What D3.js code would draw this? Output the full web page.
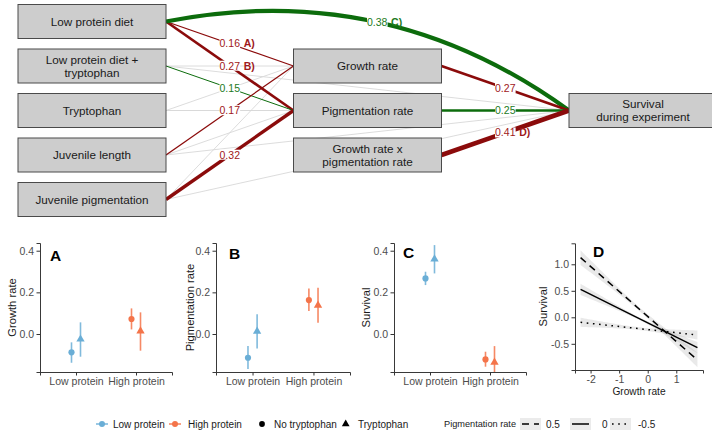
<!DOCTYPE html>
<html>
<head>
<meta charset="utf-8">
<script src="https://cdn.jsdelivr.net/npm/d3@7"></script>
<style>
  html, body { margin: 0; padding: 0; background: #fff; }
  svg { display: block; font-family: "Liberation Sans", Arial, sans-serif; }
</style>
</head>
<body>
<svg id="chart" width="712" height="433"></svg>
<script>
// ---------------- Path model ----------------
const nodeIds    = ["lp", "lpt", "trp", "jl", "jp", "gr", "pr", "gxp", "surv"];
const nodeLabels = ["Low protein diet", "Low protein diet +\ntryptophan", "Tryptophan",
                    "Juvenile length", "Juvenile pigmentation",
                    "Growth rate", "Pigmentation rate", "Growth rate x\npigmentation rate",
                    "Survival\nduring experiment"];
const nodeLayer  = ["exo", "exo", "exo", "exo", "exo", "med", "med", "med", "resp"];

// significant paths (standardised coefficients; sign gives colour)
const sigFrom = ["lp", "lp", "lp", "lpt", "jl", "jp", "gr", "pr", "gxp"];
const sigTo   = ["gr", "pr", "surv", "pr", "gr", "pr", "surv", "surv", "surv"];
const sigCoef = [-0.16, -0.27, 0.38, 0.15, -0.17, -0.32, -0.27, 0.25, -0.41];
const sigTag  = ["A)", "B)", "C)", "", "", "", "", "", "D)"];

// non-significant paths
const nsFrom = ["lpt", "lpt", "trp", "trp", "trp", "jl", "jl", "jp", "jp"];
const nsTo   = ["gr", "surv", "gr", "pr", "surv", "pr", "surv", "gr", "surv"];

// ---------------- Treatment effects (panels A-C) ----------------
const dietLevels = ["Low protein", "High protein"];
const trpLevels  = ["No tryptophan", "Tryptophan"];
// order: low/no trp, low/trp, high/no trp, high/trp
const growthMean = [-0.088, -0.025, 0.072, 0.014];
const growthLow  = [-0.138, -0.109, 0.022, -0.080];
const growthHigh = [-0.040, 0.056, 0.123, 0.104];
const pigMean    = [-0.114, 0.013, 0.163, 0.138];
const pigLow     = [-0.168, -0.069, 0.110, 0.054];
const pigHigh    = [-0.058, 0.095, 0.219, 0.222];
const survMean   = [0.267, 0.360, -0.122, -0.136];
const survLow    = [0.235, 0.291, -0.157, -0.200];
const survHigh   = [0.299, 0.427, -0.085, -0.058];
const effectTicks = [0, 0.2, 0.4];
const effectTickLabels = ["0.0", "0.2", "0.4"];

// ---------------- Interaction (panel D) ----------------
const pigLevels   = ["0.5", "0", "-0.5"];
const fitIntercept = [0.016, -0.105, -0.232];
const fitSlope     = [-0.472, -0.269, -0.0587];
const fitSe0       = [0.035, 0.025, 0.025];
const fitSeSlope   = [0.065, 0.050, 0.040];
const growthCentre = -0.3;
const growthRange  = [-2.35, 1.74];
const dTicksX = [-2, -1, 0, 1];
const dTicksY = [-0.5, 0, 0.5, 1.0];
const dTickLabelsY = ["-0.5", "0.0", "0.5", "1.0"];

// ---------------- Drawing ----------------
const svg = d3.select("#chart");
const POS = "#0c6c0c", NEG = "#8b0b0b", POS_T = "#1c7a1c", NEG_T = "#a0181a";
const dietColour = d3.scaleOrdinal().domain(dietLevels).range(["#6aaed6", "#f4744a"]);
const trpShape = d3.scaleOrdinal().domain(trpLevels).range([d3.symbolCircle, d3.symbolTriangle]);
const lineDash = d3.scaleOrdinal().domain(pigLevels).range(["7,5", null, "1.6,4.6"]);

// ----- path diagram -----
const nodeW = 148, nodeH = 34;
const colX = d3.scalePoint().domain(["exo", "med", "resp"]).range([18, 569]);
const rowY = d3.scaleLinear().domain([0, 4]).range([21.5, 199.5]);
const nodes = {};
["exo", "med", "resp"].forEach(layer => {
  const ids = nodeIds.filter((d, i) => nodeLayer[i] === layer);
  ids.forEach((id, j) => {
    const i = nodeIds.indexOf(id);
    nodes[id] = { id, label: nodeLabels[i], layer,
      x: colX(layer), cy: rowY(j - (ids.length - 1) / 2 + 2) };
  });
});
const widthScale = d3.scaleLinear().domain([0.15, 0.41]).range([1.0, 4.6]);

function edgeGeom(f, t) {
  const a = nodes[f], b = nodes[t];
  return { x1: a.x + nodeW, y1: a.cy, x2: b.x, y2: b.cy };
}

const gEdges = svg.append("g");
nsFrom.forEach((f, i) => {
  const e = edgeGeom(f, nsTo[i]);
  gEdges.append("line").attr("x1", e.x1).attr("y1", e.y1).attr("x2", e.x2).attr("y2", e.y2)
    .attr("stroke", "#d8d8d8").attr("stroke-width", 0.9);
});

const labels = [];
sigFrom.forEach((f, i) => {
  const e = edgeGeom(f, sigTo[i]);
  const c = sigCoef[i];
  const col = c > 0 ? POS : NEG;
  const curved = nodes[f].layer === "exo" && nodes[sigTo[i]].layer === "resp";
  let mx, my;
  if (curved) {
    const dx = e.x2 - e.x1, dy = e.y2 - e.y1, len = Math.hypot(dx, dy);
    const nx = dy / len, ny = -dx / len, bulge = 45;
    const cx = (e.x1 + e.x2) / 2 + 2 * bulge * nx, cy = (e.y1 + e.y2) / 2 + 2 * bulge * ny;
    const p = d3.path(); p.moveTo(e.x1, e.y1); p.quadraticCurveTo(cx, cy, e.x2, e.y2);
    gEdges.append("path").attr("d", p.toString()).attr("fill", "none")
      .attr("stroke", col).attr("stroke-width", widthScale(Math.abs(c)));
    mx = 0.25 * e.x1 + 0.5 * cx + 0.25 * e.x2;
    my = 0.25 * e.y1 + 0.5 * cy + 0.25 * e.y2;
  } else {
    gEdges.append("line").attr("x1", e.x1).attr("y1", e.y1).attr("x2", e.x2).attr("y2", e.y2)
      .attr("stroke", col).attr("stroke-width", widthScale(Math.abs(c)));
    mx = (e.x1 + e.x2) / 2; my = (e.y1 + e.y2) / 2;
  }
  labels.push({ mx, my, text: d3.format(".2f")(Math.abs(c)), tag: sigTag[i], col: c > 0 ? POS_T : NEG_T });
});

// boxes
const gNodes = svg.append("g");
Object.values(nodes).forEach(n => {
  gNodes.append("rect").attr("x", n.x).attr("y", n.cy - nodeH / 2)
    .attr("width", nodeW).attr("height", nodeH)
    .attr("fill", "#cdcdcd").attr("stroke", "#4a4a4a").attr("stroke-width", 1);
  const lines = n.label.split("\n"), lh = 13;
  const t = gNodes.append("text").attr("text-anchor", "middle")
    .attr("font-size", 11.7).attr("fill", "#1a1a1a");
  lines.forEach((s, k) => {
    t.append("tspan").attr("x", n.x + nodeW / 2)
      .attr("y", n.cy + (k - (lines.length - 1) / 2) * lh + 4.1).text(s);
  });
});

// coefficient labels
const gLab = svg.append("g");
labels.forEach(l => {
  const g = gLab.append("g");
  const bg = g.append("rect").attr("fill", "#fff");
  const num = g.append("text").attr("x", l.mx).attr("y", l.my + 3.7)
    .attr("text-anchor", "middle").attr("font-size", 10.5).attr("fill", l.col).text(l.text);
  const nb = num.node().getBBox();
  let right = nb.x + nb.width;
  if (l.tag) {
    const tg = g.append("text").attr("x", right + 3.5).attr("y", l.my + 3.7)
      .attr("font-size", 10.5).attr("font-weight", "bold").attr("fill", l.col).text(l.tag);
    const tb = tg.node().getBBox();
    right = tb.x + tb.width;
  }
  bg.attr("x", nb.x).attr("y", nb.y + 1).attr("width", nb.width).attr("height", nb.height - 2);
});

// ----- panels A-C -----
const effectDomain = [-0.1824, 0.437];
function drawEffectPanel(cfg) {
  const g = svg.append("g");
  const x = d3.scalePoint().domain(dietLevels).range(cfg.xRange).padding(0.6);
  const y = d3.scaleLinear().domain(effectDomain).range([372, 243]);
  const dodge = x.step() * 0.075;
  const clipId = "clip" + cfg.tag;
  svg.append("clipPath").attr("id", clipId).append("rect")
    .attr("x", cfg.xRange[0]).attr("y", 243).attr("width", cfg.xRange[1] - cfg.xRange[0]).attr("height", 129);
  const rows = cfg.mean.map((m, i) => ({
    diet: dietLevels[Math.floor(i / 2)], trp: trpLevels[i % 2], mean: m, lo: cfg.lo[i], hi: cfg.hi[i]
  }));
  const px = d => x(d.diet) + (d.trp === trpLevels[0] ? -dodge : dodge);
  const marks = g.append("g").attr("clip-path", `url(#${clipId})`);
  marks.selectAll("line.err").data(rows).join("line").attr("class", "err")
    .attr("x1", px).attr("x2", px).attr("y1", d => y(d.lo)).attr("y2", d => y(d.hi))
    .attr("stroke", d => dietColour(d.diet)).attr("stroke-width", 1.6).attr("stroke-opacity", 0.85);
  marks.selectAll("path.pt").data(rows).join("path").attr("class", "pt")
    .attr("transform", d => `translate(${px(d)},${y(d.mean)})`)
    .attr("d", d => d3.symbol().type(trpShape(d.trp)).size(d.trp === trpLevels[0] ? 30 : 30)())
    .attr("fill", d => dietColour(d.diet));

  const ax = g.append("g").attr("transform", "translate(0,372)")
    .call(d3.axisBottom(x).tickSizeOuter(0).tickSize(3.5).tickPadding(2.5));
  const ay = g.append("g").attr("transform", `translate(${cfg.xRange[0]},0)`)
    .call(d3.axisLeft(y).tickValues(effectTicks).tickFormat((d, i) => effectTickLabels[i])
      .tickSizeOuter(0).tickSize(3.5).tickPadding(2.5));
  [ax, ay].forEach(a => {
    a.select(".domain").attr("stroke", "#222").attr("stroke-width", 0.9);
    a.selectAll(".tick line").attr("stroke", "#333");
    a.selectAll(".tick text").attr("fill", "#4d4d4d").attr("font-size", 10.5)
      .attr("font-family", "Liberation Sans, Arial, sans-serif");
  });
  g.append("text").attr("transform", `translate(${cfg.titleX},307.5) rotate(-90)`)
    .attr("text-anchor", "middle").attr("dy", "0.35em").attr("font-size", 11.2)
    .attr("fill", "#1a1a1a").text(cfg.title);
  g.append("text").attr("x", cfg.tagX).attr("y", cfg.tagY).attr("font-size", 15.5)
    .attr("font-weight", "bold").attr("fill", "#000").text(cfg.tag);
}

drawEffectPanel({ tag: "A", title: "Growth rate", xRange: [40, 172], titleX: 12, tagX: 50, tagY: 261,
  mean: growthMean, lo: growthLow, hi: growthHigh });
drawEffectPanel({ tag: "B", title: "Pigmentation rate", xRange: [216, 350], titleX: 190, tagX: 229, tagY: 259,
  mean: pigMean, lo: pigLow, hi: pigHigh });
drawEffectPanel({ tag: "C", title: "Survival", xRange: [394, 526], titleX: 366, tagX: 403, tagY: 258,
  mean: survMean, lo: survLow, hi: survHigh });

// ----- panel D -----
(function () {
  const g = svg.append("g");
  const x = d3.scaleLinear().domain([-2.545, 1.935]).range([575, 703]);
  const y = d3.scaleLinear().domain([-0.994, 1.396]).range([370, 243.3]);
  const xs = d3.range(growthRange[0], growthRange[1] + 1e-9, (growthRange[1] - growthRange[0]) / 60);
  pigLevels.forEach((lev, i) => {
    const fit = v => fitIntercept[i] + fitSlope[i] * v;
    const se = v => Math.sqrt(fitSe0[i] ** 2 + (fitSeSlope[i] * (v - growthCentre)) ** 2);
    g.append("path").datum(xs)
      .attr("d", d3.area().x(v => x(v)).y0(v => y(fit(v) - se(v))).y1(v => y(fit(v) + se(v))))
      .attr("fill", "#9a9a9a").attr("fill-opacity", 0.22);
  });
  pigLevels.forEach((lev, i) => {
    const fit = v => fitIntercept[i] + fitSlope[i] * v;
    g.append("path").datum(growthRange)
      .attr("d", d3.line().x(v => x(v)).y(v => y(fit(v))))
      .attr("fill", "none").attr("stroke", "#000").attr("stroke-width", 1.5)
      .attr("stroke-dasharray", lineDash(lev));
  });
  const ax = g.append("g").attr("transform", "translate(0,370)")
    .call(d3.axisBottom(x).tickValues(dTicksX).tickFormat(d => String(d))
      .tickSizeOuter(0).tickSize(3.5).tickPadding(2.5));
  const ay = g.append("g").attr("transform", "translate(575,0)")
    .call(d3.axisLeft(y).tickValues(dTicksY).tickFormat((d, i) => dTickLabelsY[i])
      .tickSizeOuter(0).tickSize(3.5).tickPadding(2.5));
  [ax, ay].forEach(a => {
    a.select(".domain").attr("stroke", "#222").attr("stroke-width", 0.9);
    a.selectAll(".tick line").attr("stroke", "#333");
    a.selectAll(".tick text").attr("fill", "#4d4d4d").attr("font-size", 10.5)
      .attr("font-family", "Liberation Sans, Arial, sans-serif");
  });
  g.append("text").attr("x", 639).attr("y", 395).attr("text-anchor", "middle")
    .attr("font-size", 10.2).attr("fill", "#1a1a1a").text("Growth rate");
  g.append("text").attr("transform", "translate(543,306.5) rotate(-90)")
    .attr("text-anchor", "middle").attr("dy", "0.35em").attr("font-size", 11.2)
    .attr("fill", "#1a1a1a").text("Survival");
  g.append("text").attr("x", 593).attr("y", 257).attr("font-size", 15.5)
    .attr("font-weight", "bold").attr("fill", "#000").text("D");
})();

// ----- legend -----
(function () {
  const g = svg.append("g");
  const cy = 424;
  const txt = (x, s) => g.append("text").attr("x", x).attr("y", cy).attr("dy", "0.35em")
    .attr("font-size", 10).attr("fill", "#1a1a1a").text(s);
  [[102, 113], [175, 188]].forEach(([kx, tx], i) => {
    const c = dietColour(dietLevels[i]);
    g.append("line").attr("x1", kx - 6).attr("x2", kx + 6).attr("y1", cy).attr("y2", cy)
      .attr("stroke", c).attr("stroke-width", 1.6).attr("stroke-opacity", 0.85);
    g.append("circle").attr("cx", kx).attr("cy", cy).attr("r", 3).attr("fill", c);
    txt(tx, dietLevels[i]);
  });
  [[262, 274], [345.7, 358]].forEach(([kx, tx], i) => {
    g.append("path").attr("transform", `translate(${kx},${cy})`)
      .attr("d", d3.symbol().type(trpShape(trpLevels[i])).size(26)()).attr("fill", "#000");
    txt(tx, trpLevels[i]);
  });
  g.append("text").attr("x", 444).attr("y", cy).attr("dy", "0.35em")
    .attr("font-size", 9.2).attr("fill", "#1a1a1a").text("Pigmentation rate");
  [[520, 546], [570, 602], [610, 638]].forEach(([kx, tx], i) => {
    g.append("rect").attr("x", kx).attr("y", cy - 6).attr("width", 21).attr("height", 12)
      .attr("fill", "#ebebeb");
    g.append("line").attr("x1", kx + 2).attr("x2", kx + 19).attr("y1", cy).attr("y2", cy)
      .attr("stroke", "#000").attr("stroke-width", 1.5)
      .attr("stroke-dasharray", lineDash(pigLevels[i]));
    txt(tx, pigLevels[i]);
  });
})();
</script>
</body>
</html>
